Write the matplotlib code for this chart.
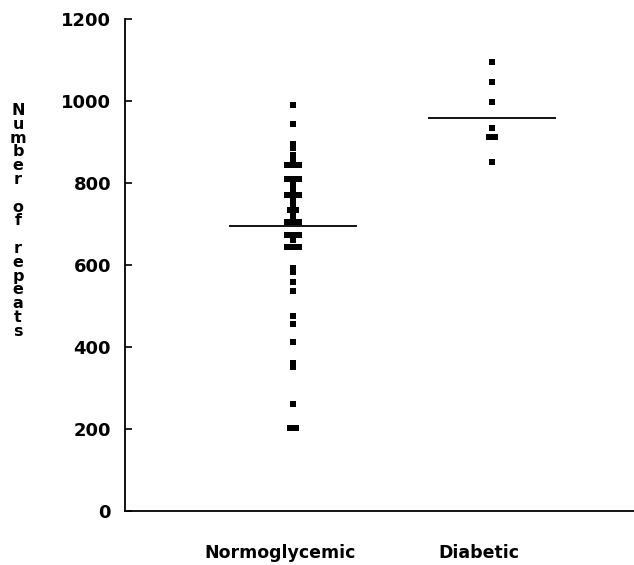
import numpy as np
import matplotlib.pyplot as plt
from matplotlib.transforms import ScaledTranslation

# Data
groups = ["Normoglycemic", "Diabetic"]
normo = [990, 945, 895, 885, 868, 857, 845, 845, 845, 810, 810, 810, 800,
         790, 780, 770, 770, 770, 760, 750, 745, 735, 735, 725, 715,
         705, 705, 705, 672, 672, 672, 662, 645, 645, 645, 593, 584,
         559, 537, 476, 456, 413, 360, 350, 261, 202, 202]
diab = [1096, 1047, 998, 934, 912, 912, 852]
means = [695, 958]
yticks = [0, 200, 400, 600, 800, 1000, 1200]


def spread(vals, step=0.03):
    # put equal values side by side
    vals = np.asarray(vals)
    off = np.zeros(len(vals))
    for v in np.unique(vals):
        idx = np.where(vals == v)[0]
        n = len(idx)
        off[idx] = (np.arange(n) - (n - 1) / 2) * step
    return off


fig = plt.figure(figsize=(6.34, 5.65), dpi=100)
ax = fig.add_axes([0.197, 0.0956, 0.803, 0.8708])

for i, vals in enumerate([normo, diab]):
    x = i + 1 + spread(vals)
    ax.plot(x, vals, 's', color='black', ms=4.3, mew=0)
    ax.hlines(means[i], i + 1 - 0.32, i + 1 + 0.32, color='black', lw=1.3)

ax.set_xlim(0.156, 2.714)
ax.set_ylim(0, 1200)
ax.set_yticks(yticks)
ax.set_yticklabels([str(t) for t in yticks], fontsize=13, fontweight='bold')
ax.tick_params(axis='y', direction='in', length=5, width=1.2, pad=10)

ax.set_xticks([1, 2])
ax.set_xticklabels(groups, fontsize=12.5, fontweight='bold')
ax.tick_params(axis='x', length=0, pad=24)
for lab in ax.get_xticklabels():
    lab.set_transform(lab.get_transform() + ScaledTranslation(-0.13, 0, fig.dpi_scale_trans))

for s in ['top', 'right']:
    ax.spines[s].set_visible(False)
for s in ['left', 'bottom']:
    ax.spines[s].set_linewidth(1.3)

# one letter per line, blank line between words
ylabel = "\n\n".join("\n".join(w) for w in "Number of repeats".split())
fig.text(18 / 634, 1 - 221 / 565, ylabel, fontsize=11.5, fontweight='bold',
         ha='center', va='center', linespacing=0.9)

fig.savefig('out.png', dpi=100)
